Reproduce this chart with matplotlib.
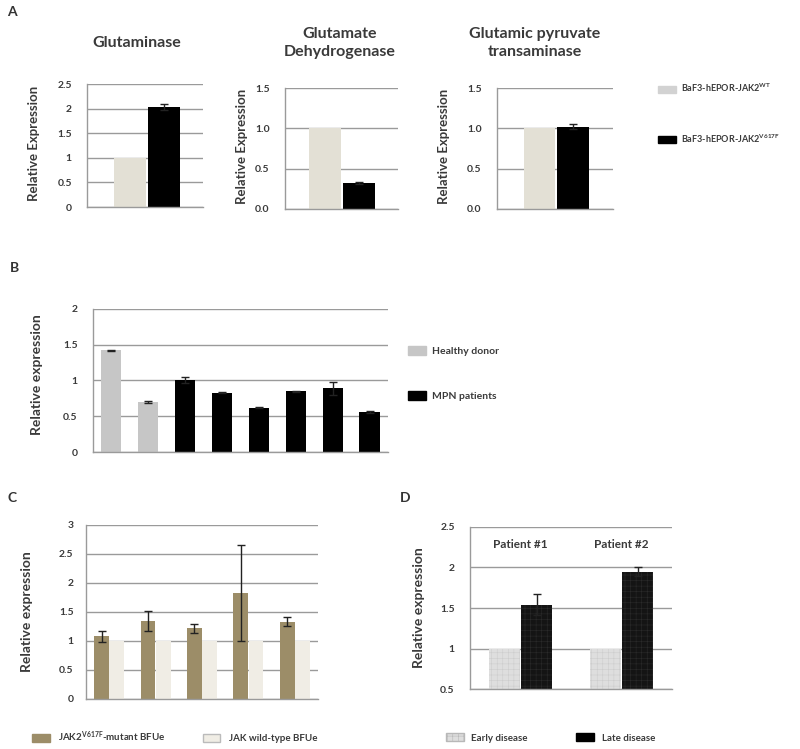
import matplotlib.pyplot as plt
from matplotlib.patches import Patch

plt.rcParams['font.family'] = ['Lato', 'DejaVu Sans']
plt.rcParams['font.weight'] = 'bold'
plt.rcParams['axes.labelweight'] = 'bold'
plt.rcParams['mathtext.default'] = 'regular'
plt.rcParams['hatch.linewidth'] = 0.4

# ---- data ----
# panel A
a_titles = ['Glutaminase', 'Glutamate\nDehydrogenase', 'Glutamic pyruvate\ntransaminase']
a_wt = [1.0, 1.0, 1.0]
a_v617f = [2.03, 0.32, 1.02]
a_v617f_err = [0.06, 0.01, 0.03]
a_ymax = [2.5, 1.5, 1.5]
a_ticks = [[0, 0.5, 1, 1.5, 2, 2.5], [0.0, 0.5, 1.0, 1.5], [0.0, 0.5, 1.0, 1.5]]
a_ticklabels = [['0', '0.5', '1', '1.5', '2', '2.5'],
                ['0.0', '0.5', '1.0', '1.5'], ['0.0', '0.5', '1.0', '1.5']]

# panel B
b_values = [1.42, 0.70, 1.01, 0.83, 0.62, 0.85, 0.89, 0.56]
b_err = [0.01, 0.015, 0.04, 0.01, 0.01, 0.01, 0.09, 0.01]
b_group = ['Healthy donor', 'Healthy donor', 'MPN patients', 'MPN patients',
           'MPN patients', 'MPN patients', 'MPN patients', 'MPN patients']

# panel C
c_mutant = [1.08, 1.34, 1.22, 1.83, 1.33]
c_mutant_err = [0.09, 0.17, 0.08, 0.83, 0.08]
c_wt = [1.0, 1.0, 1.0, 1.0, 1.0]

# panel D
d_patients = ['Patient #1', 'Patient #2']
d_early = [1.0, 1.0]
d_late = [1.54, 1.95]
d_late_err = [0.13, 0.06]

grid_c = '#9a9a9a'
text_c = '#3a3a3a'


def style(ax, ymin, ymax, ticks, labels, pad):
    ax.set_ylim(ymin, ymax)
    ax.set_yticks(ticks)
    ax.set_yticklabels(labels, fontweight='bold')
    ax.set_xticks([])
    ax.yaxis.grid(True, color=grid_c, linewidth=1)
    ax.set_axisbelow(True)
    for s in ['top', 'right']:
        ax.spines[s].set_visible(False)
    for s in ['left', 'bottom']:
        ax.spines[s].set_color(grid_c)
        ax.spines[s].set_linewidth(1)
    ax.tick_params(axis='y', length=0, pad=pad, labelsize=7.5, labelcolor=text_c)


fig = plt.figure(figsize=(8, 7.49), dpi=100)

# ---- panel A ----
a_pos = [(0.109, 0.7236, 0.145, 0.1642),
         (0.356, 0.7210, 0.141, 0.1615),
         (0.621, 0.7210, 0.145, 0.1615)]
a_xlim = [(-1.27, 2.15), (-1.19, 2.13), (-1.30, 2.21)]
a_lab_x = [-0.405, -0.33, -0.405]
a_title_x = [137, 340, 535]
for i in range(3):
    ax = fig.add_axes(a_pos[i])
    ax.bar([0], [a_wt[i]], width=0.95, color='#e3e0d5')
    ax.bar([1], [a_v617f[i]], width=0.95, color='black',
           yerr=[a_v617f_err[i]], capsize=3, error_kw=dict(elinewidth=1, ecolor='#222'))
    ax.set_xlim(*a_xlim[i])
    style(ax, 0, a_ymax[i], a_ticks[i], a_ticklabels[i], 11)
    ax.set_ylabel('Relative Expression', fontsize=9.5, color=text_c)
    ax.yaxis.set_label_coords(a_lab_x[i], 0.52)
    fig.text(a_title_x[i] / 800, 1 - 43 / 749, a_titles[i], ha='center', va='center',
             fontsize=11.5, color=text_c, linespacing=1.4)

a_handles = [Patch(color='#d2d2d2'), Patch(color='black')]
fig.legend(a_handles, [r'BaF3-hEPOR-JAK2$^{WT}$', r'BaF3-hEPOR-JAK2$^{V617F}$'],
           loc='upper left', bbox_to_anchor=(658 / 800, 1 - 82 / 749), frameon=False,
           fontsize=6.5, handlelength=2.0, handleheight=0.8, handletextpad=0.6,
           labelspacing=4.2, borderpad=0, borderaxespad=0, labelcolor=text_c)

fig.text(7 / 800, 1 - 12 / 749, 'A', fontsize=10, color='#333', va='center')

# ---- panel B ----
ax = fig.add_axes((0.116, 0.3965, 0.369, 0.191))
b_colors = ['#c6c6c6' if g == 'Healthy donor' else 'black' for g in b_group]
ax.bar(range(len(b_values)), b_values, width=0.55, color=b_colors,
       yerr=b_err, capsize=3, error_kw=dict(elinewidth=1, ecolor='#222'))
ax.set_xlim(-0.5, len(b_values) - 0.5)
style(ax, 0, 2, [0, 0.5, 1, 1.5, 2], ['0', '0.5', '1', '1.5', '2'], 11)
ax.set_ylabel('Relative expression', fontsize=10, color=text_c)
ax.yaxis.set_label_coords(-0.17, 0.54)
fig.legend([Patch(color='#c6c6c6'), Patch(color='black')], ['Healthy donor', 'MPN patients'],
           loc='upper left', bbox_to_anchor=(408 / 800, 1 - 346 / 749), frameon=False,
           fontsize=7.5, handlelength=1.7, handleheight=0.9, handletextpad=0.6,
           labelspacing=3.4, borderpad=0, borderaxespad=0, labelcolor=text_c)
fig.text(10 / 800, 1 - 268 / 749, 'B', fontsize=10, color='#333', va='center')

# ---- panel C ----
ax = fig.add_axes((0.1075, 0.0668, 0.29, 0.2323))
x = list(range(len(c_mutant)))
ax.bar([i - 0.165 for i in x], c_mutant, width=0.32, color='#9c8d68',
       yerr=c_mutant_err, capsize=3, error_kw=dict(elinewidth=1, ecolor='#222'))
ax.bar([i + 0.165 for i in x], c_wt, width=0.32, color='#f0ede5')
ax.set_xlim(-0.5, len(c_mutant) - 0.5)
style(ax, 0, 3, [0, 0.5, 1, 1.5, 2, 2.5, 3], ['0', '0.5', '1', '1.5', '2', '2.5', '3'], 9)
ax.set_ylabel('Relative expression', fontsize=10, color=text_c)
ax.yaxis.set_label_coords(-0.228, 0.5)
fig.legend([Patch(color='#9c8d68'), Patch(facecolor='#f0ede5', edgecolor='#bbbbbb')],
           [r'JAK2$^{V617F}$-mutant BFUe', 'JAK wild-type BFUe'],
           loc='center left', bbox_to_anchor=(32 / 800, 1 - 737 / 749), frameon=False, ncol=2,
           fontsize=7, handlelength=1.8, handleheight=0.8, handletextpad=0.9,
           columnspacing=3.8, borderpad=0, borderaxespad=0, labelcolor=text_c)
fig.text(8 / 800, 1 - 498 / 749, 'C', fontsize=10, color='#333', va='center')

# ---- panel D ----
ax = fig.add_axes((0.5875, 0.0801, 0.2525, 0.2163))
x = list(range(len(d_patients)))
ax.bar([i - 0.16 for i in x], [v - 0.5 for v in d_early], bottom=0.5, width=0.31,
       color='#dedede', edgecolor='#cdcdcd', hatch='+++', linewidth=0)
ax.bar([i + 0.16 for i in x], [v - 0.5 for v in d_late], bottom=0.5, width=0.31,
       color='#141414', edgecolor='#2a2a2a', hatch='+++', linewidth=0,
       yerr=d_late_err, capsize=3, error_kw=dict(elinewidth=1, ecolor='#222'))
for i, name in enumerate(d_patients):
    ax.text(i, 2.28, name, ha='center', va='center', fontsize=8.5, color=text_c)
ax.set_xlim(-0.5, len(d_patients) - 0.5)
style(ax, 0.5, 2.5, [0.5, 1, 1.5, 2, 2.5], ['0.5', '1', '1.5', '2', '2.5'], 11)
ax.set_ylabel('Relative expression', fontsize=10, color=text_c)
ax.yaxis.set_label_coords(-0.223, 0.5)
fig.legend([Patch(facecolor='#dedede', edgecolor='#b8b8b8', hatch='+++'),
            Patch(color='black')],
           ['Early disease', 'Late disease'],
           loc='center left', bbox_to_anchor=(446 / 800, 1 - 738 / 749), frameon=False, ncol=2,
           fontsize=7, handlelength=1.8, handleheight=0.8, handletextpad=0.8,
           columnspacing=5.0, borderpad=0, borderaxespad=0, labelcolor=text_c)
fig.text(400 / 800, 1 - 498 / 749, 'D', fontsize=10, color='#333', va='center')

fig.savefig('out.png', dpi=100)
